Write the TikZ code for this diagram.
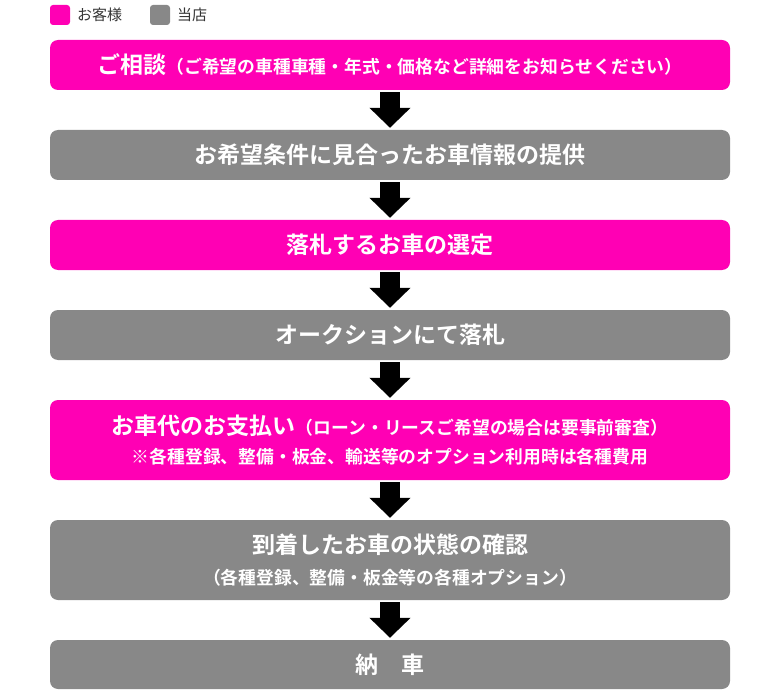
\documentclass[tikz,border=0pt]{standalone}
\usepackage{fontspec}
\usetikzlibrary{arrows.meta}
\newfontfamily\jp{Noto Sans CJK JP}[BoldFont={Noto Sans CJK JP Bold}]
\newfontfamily\jpreg{Noto Sans CJK JP}
\definecolor{pinkc}{HTML}{FF00B4}
\definecolor{grayc}{HTML}{888888}
\definecolor{legtext}{HTML}{333333}
\newcommand{\bigt}{\fontsize{23}{26}\selectfont}
\newcommand{\smallt}{\fontsize{17.8}{20}\selectfont}
\tikzset{
  stepbox/.style={rounded corners=8pt, minimum width=680pt, inner sep=0pt, text=white, font=\jp\bfseries, align=center},
  custbox/.style={stepbox, fill=pinkc},
  shopbox/.style={stepbox, fill=grayc},
  legsq/.style={rounded corners=3pt, minimum width=20pt, minimum height=20pt, inner sep=0pt},
  legtxt/.style={anchor=west, inner sep=0pt, text=legtext, font=\jpreg\fontsize{15}{16}\selectfont},
  bigarrow/.style={line width=20pt, -{Triangle[width=40pt,length=20pt]}, shorten <=2pt, shorten >=2pt}
}
\begin{document}
\begin{tikzpicture}[x=1pt,y=-1pt]
\useasboundingbox (0,0) rectangle (780,690);
% legend
\node[legsq, fill=pinkc] (lc) at (60,15) {};
\node[legtxt] (lct) at (77,15) {お客様};
\node[legsq, fill=grayc] (ls) at (160,15) {};
\node[legtxt] (lst) at (177,15) {当店};
% boxes
\node[custbox, minimum height=50pt] (b1) at (390,65) {\bigt ご相談{\smallt （ご希望の車種車種・年式・価格など詳細をお知らせください）}};
\node[shopbox, minimum height=50pt] (b2) at (390,155) {\bigt お希望条件に見合ったお車情報の提供};
\node[custbox, minimum height=50pt] (b3) at (390,245) {\bigt 落札するお車の選定};
\node[shopbox, minimum height=50pt] (b4) at (390,335) {\bigt オークションにて落札};
\node[custbox, minimum height=80pt] (b5) at (390,440) {\bigt お車代のお支払い{\smallt （ローン・リースご希望の場合は要事前審査）}\\[11pt]{\smallt ※各種登録、整備・板金、輸送等のオプション利用時は各種費用}};
\node[shopbox, minimum height=80pt] (b6) at (390,560) {\bigt 到着したお車の状態の確認\\[12pt]{\smallt （各種登録、整備・板金等の各種オプション）}};
\node[shopbox, minimum height=49pt] (b7) at (390,664.5) {\bigt 納　車};
% arrows
\draw[bigarrow] (b1.south) -- (b2.north);
\draw[bigarrow] (b2.south) -- (b3.north);
\draw[bigarrow] (b3.south) -- (b4.north);
\draw[bigarrow] (b4.south) -- (b5.north);
\draw[bigarrow] (b5.south) -- (b6.north);
\draw[bigarrow] (b6.south) -- (b7.north);
\end{tikzpicture}
\end{document}
